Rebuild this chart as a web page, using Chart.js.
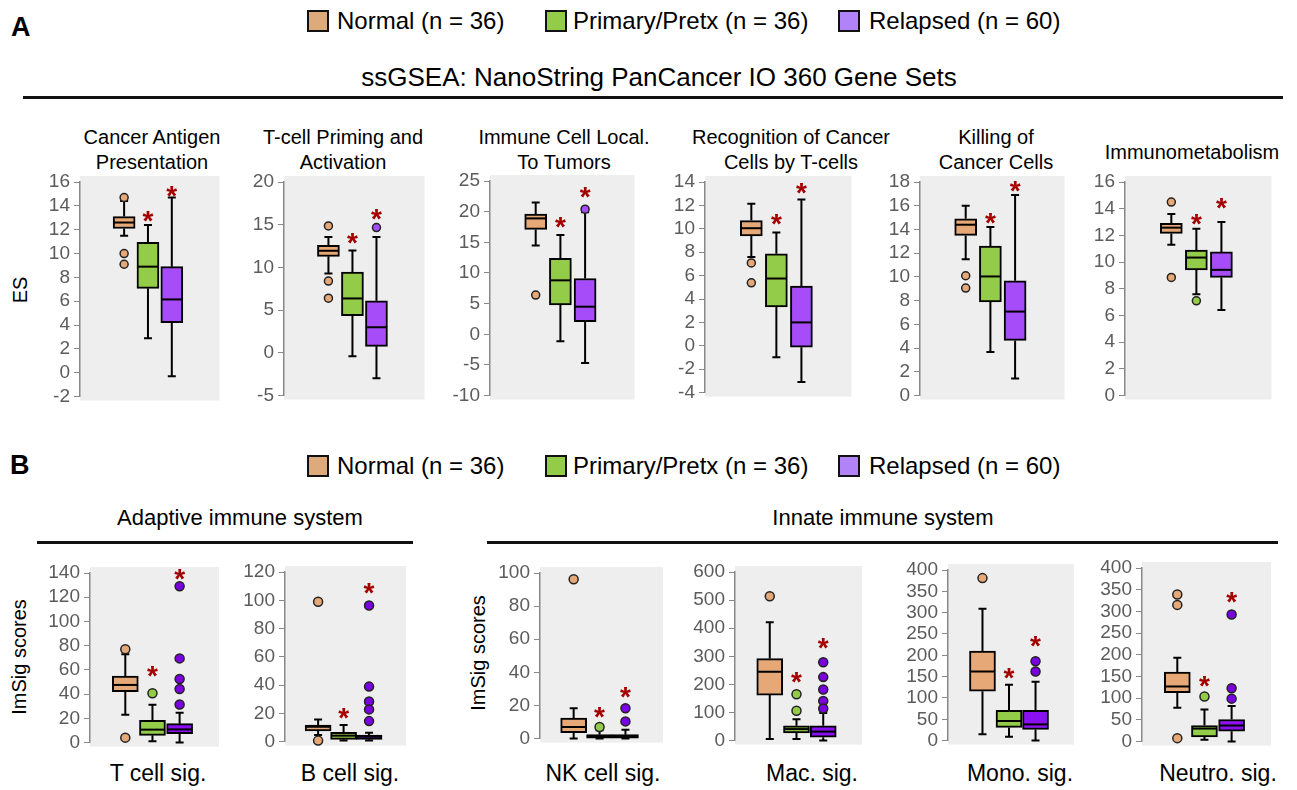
<!DOCTYPE html>
<html>
<head>
    <title>ssGSEA and ImSig box plots</title>
    <script src="https://cdn.jsdelivr.net/npm/chart.js"></script>
    <style>
        body {
            margin: 0;
            background: #fff;
            font-family: "Liberation Sans", Arial, sans-serif;
            color: #000;
        }
        #fig {
            position: relative;
            width: 1297px;
            height: 790px;
            overflow: hidden;
        }
        .abs { position: absolute; white-space: nowrap; }
        .panelLetter { font-weight: bold; font-size: 27px; }
        .legend { font-size: 24px; line-height: 24px; }
        .swatch {
            position: absolute;
            width: 18px;
            height: 18px;
            border: 2px solid #111;
        }
        .ctr { transform: translate(-50%, -50%); text-align: center; }
        .ptitle { font-size: 20px; line-height: 25px; }
        .rule { position: absolute; height: 3px; background: #111; }
        .ylab { font-size: 20px; transform: translate(-50%, -50%) rotate(-90deg); }
        canvas { position: absolute; }
    </style>
</head>
<body>
<div id="fig"></div>
<script>
    // groups shown in each panel
    var groups = ['Normal (n = 36)', 'Primary/Pretx (n = 36)', 'Relapsed (n = 60)'];

    var titlesA = ['Cancer Antigen\nPresentation', 'T-cell Priming and\nActivation', 'Immune Cell Local.\nTo Tumors',
                   'Recognition of Cancer\nCells by T-cells', 'Killing of\nCancer Cells', 'Immunometabolism'];
    var titlesB = ['T cell sig.', 'B cell sig.', 'NK cell sig.', 'Mac. sig.', 'Mono. sig.', 'Neutro. sig.'];

    // y axis ticks: min, max, step (A panels then B panels)
    var yMin  = [-2, -5, -10, -4, 0, 0,   0, 0, 0, 0, 0, 0];
    var yMax  = [16, 20, 25, 14, 18, 16,  140, 120, 100, 600, 400, 400];
    var yStep = [2, 5, 5, 2, 2, 2,        20, 20, 20, 100, 50, 50];

    // box stats per panel: [lower whisker, q1, median, q3, upper whisker]
    var boxNormal = [
        [11.5, 12.1, 12.6, 13.1, 14.4], [9.3, 11.3, 11.95, 12.6, 13.55], [14.5, 17.1, 18.9, 19.6, 21.5],
        [7.6, 9.4, 10.05, 10.7, 12.15], [11.5, 13.5, 14.4, 14.9, 16.0], [11.3, 12.15, 12.58, 12.9, 13.6],
        [23, 42, 47.6, 55, 73], [4.7, 7.5, 10.5, 11.7, 15.6], [0, 3.6, 7.0, 12.4, 18.3],
        [6, 162, 245, 292, 421], [15, 116, 162, 210, 309], [78, 113, 127, 160, 193]];
    var boxPrimary = [
        [2.9, 7.08, 8.9, 10.95, 12.4], [-0.4, 4.36, 6.37, 9.46, 11.97], [-1.15, 4.8, 8.8, 12.4, 16.2],
        [-0.97, 3.32, 5.75, 7.87, 9.68], [3.67, 7.9, 10.04, 12.6, 14.2], [7.6, 9.42, 10.34, 10.9, 12.5],
        [1.1, 6.0, 10.7, 18.3, 31.2], [0.7, 1.6, 4.2, 6.5, 11.7], [0, 0, 1.4, 2.4, 5],
        [6, 27, 41, 53, 76], [9, 31, 46, 71, 131], [4, 11, 30, 37, 74]];
    var boxRelapsed = [
        [-0.3, 4.2, 6.15, 8.9, 14.7], [-2.97, 0.77, 3.0, 6.1, 13.55], [-4.7, 2.05, 4.5, 9.1, 19.9],
        [-3.1, -0.12, 2.0, 5.1, 12.5], [1.44, 4.65, 7.08, 9.68, 16.9], [6.42, 8.85, 9.42, 10.76, 13.0],
        [0, 7.4, 10.9, 15.6, 24.6], [0.7, 1.6, 3.5, 4.7, 6.3], [0, 0, 1.2, 2.4, 5.4],
        [0, 12, 32, 53, 98], [0, 26, 38, 71, 138], [0, 24, 37, 51, 82]];

    // outliers per panel
    var outNormal = [[14.7, 10.0, 9.1], [14.86, 8.4, 6.4], [6.4], [7.08, 5.38], [10.1, 9.06], [14.5, 8.85],
                     [77, 4.1], [99, 0.7], [96.2], [514], [381], [339, 315, 8]];
    var outPrimary = [[], [], [], [], [], [7.1],
                      [40.7], [], [7.0], [165, 106], [], [104]];
    var outRelapsed = [[], [14.67], [20.4], [], [], [],
                       [129, 69.5, 52.5, 44.3, 31.4], [96.3, 38.9, 28.4, 22.8, 14.5], [18.3, 10.4],
                       [279, 226, 182, 141, 114], [186, 162], [293, 123, 99]];

    // significance asterisks (y position) for Primary and Relapsed
    var starPrimary  = [13.3, 13.7, 18.6, 11.0, 15.1, 13.4,  60.7, 21.4, 17, 235, 164, 145];
    var starRelapsed = [15.4, 16.5, 23.5, 13.7, 17.86, 14.6, 141, 110, 29.5, 356, 239, 337];

    // ---- layout (page pixels of each plot area) ----
    var areas = [
        {l: 80, r: 223, t: 182, b: 398}, {l: 284, r: 428, t: 182, b: 397}, {l: 490, r: 638, t: 181, b: 397},
        {l: 705, r: 855, t: 182, b: 394}, {l: 920, r: 1068, t: 182, b: 397}, {l: 1125, r: 1275, t: 182, b: 397},
        {l: 90, r: 223, t: 573, b: 744}, {l: 285, r: 410, t: 572, b: 743}, {l: 540, r: 667, t: 573, b: 740},
        {l: 735, r: 866, t: 572, b: 742}, {l: 948, r: 1078, t: 570, b: 742}, {l: 1142, r: 1275, t: 568, b: 743}];
    var titleXA = [152, 343, 564, 791, 996, 1192];
    var labelXB = [158, 350, 603, 812, 1020, 1218];

    var tan = '#E6A876', green = '#92CC48', purpleA = '#A64DF9', purpleB = '#8A10F2';
    var outPurpleB = '#7A00E0';

    var fig = document.getElementById('fig');

    function addDiv(cls, html, css) {
        var d = document.createElement('div');
        d.className = 'abs ' + cls;
        d.innerHTML = html;
        for (var k in css) d.style[k] = css[k];
        fig.appendChild(d);
        return d;
    }

    function addLegend(y) {
        var xs = [[307, 337], [545, 573], [838, 869]];
        var cols = ['#DDAA7C', '#92CC48', '#B182F8'];
        for (var i = 0; i < 3; i++) {
            var s = document.createElement('div');
            s.className = 'swatch';
            s.style.left = xs[i][0] + 'px';
            s.style.top = (y - 11) + 'px';
            s.style.background = cols[i];
            fig.appendChild(s);
            addDiv('legend', groups[i], {left: xs[i][1] + 'px', top: (y - 12) + 'px'});
        }
    }

    // static labels
    addDiv('panelLetter', 'A', {left: '11px', top: '12px'});
    addLegend(21);
    addDiv('ctr', 'ssGSEA: NanoString PanCancer IO 360 Gene Sets', {left: '659px', top: '77px', fontSize: '26px'});
    addDiv('rule', '', {left: '23px', top: '96px', width: '1260px'});
    titlesA.forEach(function(t, i) {
        var two = t.indexOf('\n') >= 0;
        addDiv('ctr ptitle', t.replace('\n', '<br>'), {left: titleXA[i] + 'px', top: (two ? 150 : 152) + 'px'});
    });
    addDiv('ylab', 'ES', {left: '20px', top: '290px'});

    addDiv('panelLetter', 'B', {left: '10px', top: '450px'});
    addLegend(466);
    addDiv('ctr', 'Adaptive immune system', {left: '240px', top: '518px', fontSize: '22px'});
    addDiv('ctr', 'Innate immune system', {left: '883px', top: '518px', fontSize: '22px'});
    addDiv('rule', '', {left: '37px', top: '541px', width: '376px'});
    addDiv('rule', '', {left: '487px', top: '541px', width: '791px'});
    titlesB.forEach(function(t, i) {
        addDiv('ctr', t, {left: labelXB[i] + 'px', top: '773px', fontSize: '23px'});
    });
    addDiv('ylab', 'ImSig scores', {left: '19px', top: '657px'});
    addDiv('ylab', 'ImSig scores', {left: '478px', top: '653px'});

    // box plot parts drawn with the chart's own scales
    var boxPlugin = {
        id: 'boxParts',
        beforeDraw: function(chart) {
            var a = chart.chartArea, c = chart.ctx;
            c.save();
            c.fillStyle = '#EEEEEE';
            c.fillRect(a.left, a.top - 6, a.right - a.left, a.bottom - a.top + 10);
            c.restore();
        },
        beforeDatasetsDraw: function(chart) {
            var o = chart.options.plugins.boxParts;
            var xs = chart.scales.x, ys = chart.scales.y, c = chart.ctx;
            c.save();
            c.strokeStyle = '#000';
            c.lineWidth = 2;
            o.stats.forEach(function(s, g) {
                var x = xs.getPixelForValue(g + 1);
                var lo = ys.getPixelForValue(s[0]), q1 = ys.getPixelForValue(s[1]);
                var q3 = ys.getPixelForValue(s[3]), hi = ys.getPixelForValue(s[4]);
                c.beginPath();
                c.moveTo(x, q1); c.lineTo(x, lo);
                c.moveTo(x - 4, lo); c.lineTo(x + 4, lo);
                c.moveTo(x, q3); c.lineTo(x, hi);
                c.moveTo(x - 4, hi); c.lineTo(x + 4, hi);
                c.stroke();
            });
            c.restore();
        },
        afterDatasetsDraw: function(chart) {
            var o = chart.options.plugins.boxParts;
            var xs = chart.scales.x, ys = chart.scales.y, c = chart.ctx;
            var half = o.width / 2;
            c.save();
            c.strokeStyle = '#000';
            c.lineWidth = 2;
            o.stats.forEach(function(s, g) {
                var x = xs.getPixelForValue(g + 1);
                var m = ys.getPixelForValue(s[2]);
                c.beginPath();
                c.moveTo(x - half + 1, m); c.lineTo(x + half - 1, m);
                c.stroke();
            });
            c.fillStyle = '#A50000';
            c.font = 'bold 28px "Liberation Sans", Arial, sans-serif';
            c.textAlign = 'center';
            c.textBaseline = 'alphabetic';
            o.stars.forEach(function(v, g) {
                if (v === null) return;
                var x = xs.getPixelForValue(g + 1);
                c.fillText('*', x, ys.getPixelForValue(v) + 16);
            });
            c.restore();
        }
    };

    var AX = 52, PT = 30, PB = 14;

    areas.forEach(function(a, i) {
        var isB = i >= 6;
        var stats = [boxNormal[i], boxPrimary[i], boxRelapsed[i]];
        var purple = isB ? purpleB : purpleA;
        var bw = isB ? 26 : 22;

        var pts = [], ptCols = [];
        [outNormal[i], outPrimary[i], outRelapsed[i]].forEach(function(list, g) {
            list.forEach(function(v) {
                pts.push({x: g + 1, y: v});
                ptCols.push([tan, green, isB ? outPurpleB : purple][g]);
            });
        });

        var cv = document.createElement('canvas');
        var w = a.r - a.l + AX + 2, h = a.b - a.t + PT + PB;
        cv.width = w; cv.height = h;
        cv.style.left = (a.l - AX) + 'px';
        cv.style.top = (a.t - PT) + 'px';
        cv.style.width = w + 'px';
        cv.style.height = h + 'px';
        fig.appendChild(cv);

        new Chart(cv, {
            type: 'bar',
            data: {
                datasets: [{
                    type: 'scatter',
                    order: 0,
                    data: pts,
                    backgroundColor: ptCols,
                    borderColor: '#222',
                    borderWidth: 1.5,
                    pointRadius: isB ? 4.5 : 4,
                    clip: false
                }, {
                    type: 'bar',
                    order: 1,
                    data: stats.map(function(s, g) { return {x: g + 1, y: [s[1], s[3]]}; }),
                    backgroundColor: [tan, green, purple],
                    borderColor: '#000',
                    borderWidth: 2,
                    borderSkipped: false,
                    barThickness: bw,
                    clip: false
                }]
            },
            options: {
                responsive: false,
                animation: false,
                devicePixelRatio: 1,
                layout: {padding: {left: 0, right: 2, top: PT, bottom: PB}},
                plugins: {
                    legend: {display: false},
                    tooltip: {enabled: false},
                    boxParts: {stats: stats, width: bw, stars: [null, starPrimary[i], starRelapsed[i]]}
                },
                scales: {
                    x: {
                        type: 'linear',
                        display: false,
                        offset: false,
                        bounds: 'data',
                        grid: {offset: false},
                        min: isB ? -0.3 : -0.85,
                        max: isB ? 4.45 : 5.0
                    },
                    y: {
                        min: yMin[i],
                        max: yMax[i],
                        afterFit: function(s) { s.width = AX; },
                        ticks: {
                            stepSize: yStep[i],
                            autoSkip: false,
                            color: '#5c5c5c',
                            padding: 4,
                            font: {family: '"Liberation Sans", Arial, sans-serif', size: 19}
                        },
                        grid: {drawOnChartArea: false, drawTicks: true, tickLength: 6, color: '#888'},
                        border: {display: true, color: '#888', width: 1.5}
                    }
                }
            },
            plugins: [boxPlugin]
        });
    });
</script>
</body>
</html>
